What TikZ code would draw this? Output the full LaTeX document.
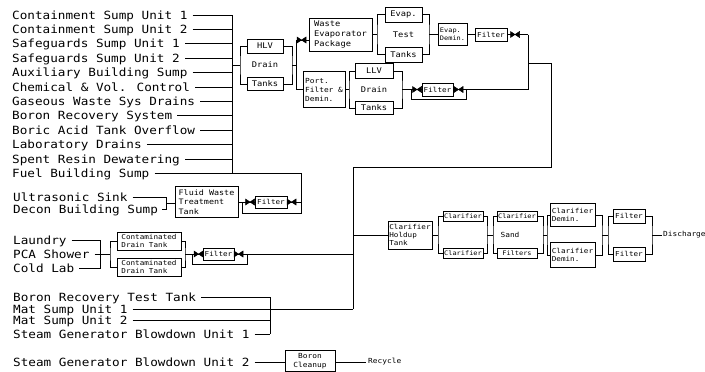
\documentclass[tikz,border=0pt]{standalone}
\usepackage{fontspec}
\newfontfamily\dfont[FakeStretch=1.12]{DejaVu Sans Mono}
\begin{document}
\begin{tikzpicture}[x=1pt,y=-1pt,
  lbl/.style={font=\dfont\fontsize{11.3}{12}\selectfont, inner sep=0pt, anchor=west, text height=8.2pt, text depth=0pt},
  fsix/.style={font=\dfont\fontsize{6.2}{7.6}\selectfont},
  fsxe/.style={font=\dfont\fontsize{6.8}{7.8}\selectfont},
  fsev/.style={font=\dfont\fontsize{7}{9}\selectfont},
  fsvn/.style={font=\dfont\fontsize{7.5}{9.2}\selectfont},
  feig/.style={font=\dfont\fontsize{7.8}{9.8}\selectfont},
  box/.style={draw, line width=1pt, inner sep=0.5pt, align=left, fill=white},
  conn/.style={line width=0.85pt},
  valve/.pic={\filldraw[line width=0.5pt] (-4.5,-3) -- (4.5,3) -- (4.5,-3) -- (-4.5,3) -- cycle;}
]
\useasboundingbox (0,0) rectangle (705,372);

% ---------- top input labels ----------
\node[lbl] (a1) at (12,15) {Containment Sump Unit 1};
\node[lbl] (a2) at (12,29.4) {Containment Sump Unit 2};
\node[lbl] (a3) at (12,43.8) {Safeguards Sump Unit 1};
\node[lbl] (a4) at (12,58.2) {Safeguards Sump Unit 2};
\node[lbl] (a5) at (12,72.6) {Auxiliary Building Sump};
\node[lbl] (a6) at (12,87) {Chemical \& Vol. Control};
\node[lbl] (a7) at (12,101.4) {Gaseous Waste Sys Drains};
\node[lbl] (a8) at (12,115.8) {Boron Recovery System};
\node[lbl] (a9) at (12,130.2) {Boric Acid Tank Overflow};
\node[lbl] (a10) at (12,144.6) {Laboratory Drains};
\node[lbl] (a11) at (12,159) {Spent Resin Dewatering};
\node[lbl] (a12) at (12,173.4) {Fuel Building Sump};

\coordinate (busT) at (232,15);
\coordinate (busB) at (232,173.4);
\draw[conn] (busT) -- (busB);
\foreach \i in {1,...,11} {\draw[conn] ([xshift=5pt]a\i.east) -- (a\i -| busT);}

% ---------- HLV drain tanks ----------
\node[box,feig,minimum width=36pt,minimum height=14pt] (hlv) at (265,46) {HLV};
\node[feig,inner sep=0pt] (drn1) at (265,65) {Drain};
\node[box,feig,minimum width=36pt,minimum height=13pt] (tk1) at (265,84) {Tanks};
\coordinate (hbl) at (240,65);
\coordinate (hbr) at (292,65);
\coordinate (hvT) at (296,40);
\coordinate (hvB) at (296,89.5);
\draw[conn] (busT |- hbl) -- (hbl);
\draw[conn] (hlv.west) -| (hbl) |- (tk1.west);
\draw[conn] (hlv.east) -| (hbr) |- (tk1.east);
\draw[conn] (hbr) -- (hbr -| hvT);
\draw[conn] (hvT) -- (hvB);

% ---------- waste evaporator / portable filter ----------
\node[box,feig,minimum width=63pt,minimum height=33pt] (wep) at (340.5,34.5) {Waste\\Evaporator\\Package};
\node[box,fsev,minimum width=42pt,minimum height=36pt] (prt) at (324,89.5) {Port.\\Filter \&\\Demin.};
\draw[conn] (hvT) -- (hvT -| wep.west);
\draw[conn] (hvB) -- (prt.west);
\path (301.5,40) pic {valve};

% ---------- evaporator test tanks ----------
\node[box,feig,minimum width=37pt,minimum height=15pt] (evp) at (403.5,14.5) {Evap.};
\node[feig,inner sep=0pt] (tst) at (403.5,34.5) {Test};
\node[box,feig,minimum width=37pt,minimum height=15pt] (tk2) at (403.5,54.5) {Tanks};
\coordinate (tbl) at (377,34.5);
\coordinate (tbr) at (429,34.5);
\draw[conn] (wep.east) -- (tbl);
\draw[conn] (evp.west) -| (tbl) |- (tk2.west);
\draw[conn] (evp.east) -| (tbr) |- (tk2.east);
\node[box,fsix,minimum width=29pt,minimum height=22pt] (edm) at (452.5,34.5) {Evap.\\Demin.};
\draw[conn] (tbr) -- (edm.west);
\node[box,fsxe,minimum width=32pt,minimum height=13pt] (fa) at (491,34.5) {Filter};
\draw[conn] (edm.east) -- (fa.west);
\coordinate (jT) at (528,34.5);
\draw[conn] (fa.east) -- (jT);
\path (515,34.5) pic {valve};

% ---------- LLV drain tanks ----------
\node[box,feig,minimum width=38pt,minimum height=15pt] (llv) at (374,71) {LLV};
\node[feig,inner sep=0pt] (drn2) at (374,89.5) {Drain};
\node[box,feig,minimum width=38pt,minimum height=13pt] (tk3) at (374,108) {Tanks};
\coordinate (lbL) at (349,89.5);
\coordinate (lbR) at (402,89.5);
\draw[conn] (prt.east) -- (lbL);
\draw[conn] (llv.west) -| (lbL) |- (tk3.west);
\draw[conn] (llv.east) -| (lbR) |- (tk3.east);
\node[box,fsxe,minimum width=31pt,minimum height=13pt] (fb) at (437.5,89.5) {Filter};
\coordinate (jB) at (528,89.5);
\draw[conn] (lbR) -- (fb.west);
\draw[conn] (fb.east) -- (jB);
\draw[conn] ([xshift=-10pt]fb.west) -- ++(0,9.5) -| ([xshift=13pt]fb.east);
\path (417,89.5) pic {valve};
\path (458.5,89.5) pic {valve};

% ---------- return line to main header ----------
\coordinate (jM) at (528,63);
\coordinate (rR) at (551,63);
\coordinate (rB) at (551,167);
\coordinate (mT) at (353,167);
\coordinate (mB) at (353,309);
\draw[conn] (jT) -- (jB);
\draw[conn] (jM) -- (rR) -- (rB) -- (mT) -- (mB);

% ---------- fluid waste treatment ----------
\node[lbl] (b1) at (13,197.5) {Ultrasonic Sink};
\node[lbl] (b2) at (13,209.5) {Decon Building Sump};
\node[box,fsvn,minimum width=63pt,minimum height=31pt] (fwt) at (206.5,202) {Fluid Waste\\Treatment\\Tank};
\coordinate (ub) at (166,203.5);
\draw[conn] ([xshift=5pt]b1.east) -| (ub);
\draw[conn] ([xshift=4pt]b2.east) -| (ub);
\draw[conn] (ub) -- (ub -| fwt.west);
\node[box,fsxe,minimum width=32pt,minimum height=12pt] (fc) at (271,202) {Filter};
\coordinate (fcR) at (301,202);
\coordinate (fwT) at (301,173.4);
\draw[conn] (fwt.east |- fc) -- (fc.west);
\draw[conn] (fc.east) -- (fcR);
\draw[conn] ([xshift=-12pt]fc.west) -- ++(0,11) -| (fwT);
\draw[conn] ([xshift=5pt]a12.east) -- (fwT);
\path (250,202) pic {valve};
\path (291.5,202) pic {valve};

% ---------- contaminated drain tanks ----------
\node[lbl] (c1) at (13,240) {Laundry};
\node[lbl] (c2) at (13,254) {PCA Shower};
\node[lbl] (c3) at (13,268) {Cold Lab};
\coordinate (cb) at (100,254);
\coordinate (cb2) at (110,254);
\draw[conn] ([xshift=5pt]c1.east) -| (cb);
\draw[conn] ([xshift=5pt]c3.east) -| (cb);
\draw[conn] ([xshift=5pt]c2.east) -- (cb2);
\node[box,fsxe,minimum width=64pt,minimum height=18pt] (ct1) at (149,241) {Contaminated\\Drain Tank};
\node[box,fsxe,minimum width=64pt,minimum height=18pt] (ct2) at (149,267) {Contaminated\\Drain Tank};
\draw[conn] (ct1.west) -| (cb2) |- (ct2.west);
\coordinate (cr) at (185,254);
\draw[conn] (ct1.east) -| (cr) |- (ct2.east);
\node[box,fsxe,minimum width=31pt,minimum height=12pt] (fd) at (218.5,254) {Filter};
\draw[conn] (cr) -- (fd.west);
\draw[conn] (fd.east) -- (fd.east -| mT);
\draw[conn] ([xshift=-10pt]fd.west) -- ++(0,10) -| ([xshift=13pt]fd.east);
\path (198.5,254) pic {valve};
\path (238.5,254) pic {valve};

% ---------- bottom inputs ----------
\node[lbl] (d1) at (13,297) {Boron Recovery Test Tank};
\node[lbl] (d2) at (13,309) {Mat Sump Unit 1};
\node[lbl] (d3) at (13,320.5) {Mat Sump Unit 2};
\node[lbl] (d4) at (13,334) {Steam Generator Blowdown Unit 1};
\coordinate (dbT) at (270,297);
\coordinate (dbB) at (270,334);
\draw[conn] (dbT) -- (dbB);
\draw[conn] ([xshift=5pt]d1.east) -- (dbT);
\draw[conn] ([xshift=5pt]d3.east) -- (d3 -| dbT);
\draw[conn] ([xshift=5pt]d4.east) -- (dbB);
\draw[conn] ([xshift=5pt]d2.east) -- (mB);

\node[lbl] (e1) at (13,362) {Steam Generator Blowdown Unit 2};
\node[box,fsev,align=center,minimum width=50pt,minimum height=21pt] (bc) at (310,361) {Boron\\Cleanup};
\node[fsev,anchor=west,inner sep=0pt] (rec) at (368,362) {Recycle};
\draw[conn] ([xshift=5pt]e1.east) -- (e1 -| bc.west);
\draw[conn] (bc.east |- rec) -- ([xshift=-2pt]rec.west);

% ---------- clarifier train ----------
\node[box,fsxe,minimum width=44pt,minimum height=28pt] (hld) at (410,235) {Clarifier\\Holdup\\Tank};
\draw[conn] (mT |- hld) -- (hld.west);
\coordinate (k1) at (438,235);
\coordinate (k2) at (487,235);
\coordinate (k3) at (493,235);
\coordinate (k4) at (543,235);
\coordinate (k5) at (547,235);
\coordinate (k6) at (602,235);
\coordinate (k7) at (608,235);
\coordinate (k8) at (652,235);
\node[box,fsix,minimum width=40pt,minimum height=10pt] (cl1) at (463,216.5) {Clarifier};
\node[box,fsix,minimum width=40pt,minimum height=10pt] (cl2) at (463,253.5) {Clarifier};
\draw[conn] (hld.east) -- (k1);
\draw[conn] (cl1.west) -| (k1) |- (cl2.west);
\draw[conn] (cl1.east) -| (k2) |- (cl2.east);
\draw[conn] (k2) -- (k3);
\node[box,fsix,minimum width=40pt,minimum height=10pt] (cl3) at (517,216.5) {Clarifier};
\node[fsev,inner sep=0pt] (snd) at (510,235) {Sand};
\node[box,fsix,minimum width=40pt,minimum height=10pt] (fil) at (517,253.5) {Filters};
\draw[conn] (cl3.west) -| (k3) |- (fil.west);
\draw[conn] (cl3.east) -| (k4) |- (fil.east);
\draw[conn] (k4) -- (k5);
\node[box,fsxe,minimum width=45pt,minimum height=23pt] (cd1) at (572.5,215) {Clarifier\\Demin.};
\node[box,fsxe,minimum width=45pt,minimum height=25pt] (cd2) at (572.5,255) {Clarifier\\Demin.};
\draw[conn] (cd1.west) -| (k5) |- (cd2.west);
\draw[conn] (cd1.east) -| (k6) |- (cd2.east);
\draw[conn] (k6) -- (k7);
\node[box,fsxe,minimum width=32pt,minimum height=14pt] (f1) at (629,216) {Filter};
\node[box,fsxe,minimum width=32pt,minimum height=14pt] (f2) at (629,254) {Filter};
\draw[conn] (f1.west) -| (k7) |- (f2.west);
\draw[conn] (f1.east) -| (k8) |- (f2.east);
\node[fsev,anchor=west,inner sep=0pt] (dc) at (663,235) {Discharge};
\draw[conn] (k8) -- ([xshift=-1.5pt]dc.west);
\end{tikzpicture}
\end{document}
